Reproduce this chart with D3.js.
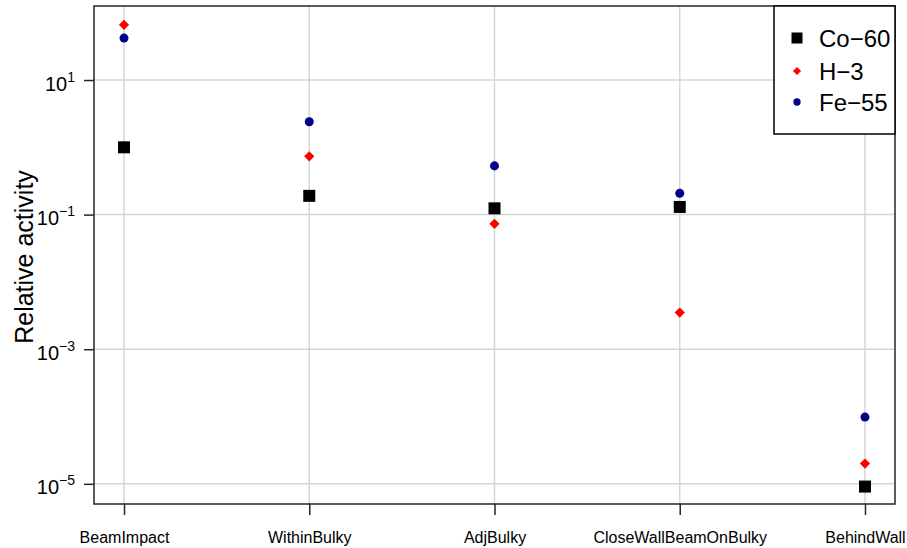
<!DOCTYPE html>
<html>
<head>
<meta charset="utf-8">
<script src="https://cdn.jsdelivr.net/npm/d3@7"></script>
<style>
  html, body { margin: 0; padding: 0; background: #fff; }
  svg { display: block; font-family: "Liberation Sans", Arial, sans-serif; }
</style>
</head>
<body>
<svg id="chart" width="907" height="548"></svg>
<script>
// Locations along the beam line
const categories = ["BeamImpact", "WithinBulky", "AdjBulky", "CloseWallBeamOnBulky", "BehindWall"];

// Relative activity per nuclide
const co60 = [1.0, 0.19, 0.124, 0.13, 9.1e-6];
const h3   = [66, 0.735, 0.073, 0.0035, 2.0e-5];
const fe55 = [42, 2.4, 0.53, 0.207, 9.8e-5];

const seriesNames = ["Co\u221260", "H\u22123", "Fe\u221255"];
const yTickExps = [1, -1, -3, -5];

const plot = { left: 94, right: 895, top: 6, bottom: 504 };

const svg = d3.select("#chart");

const x = d3.scalePoint()
  .domain(categories)
  .range([plot.left, plot.right])
  .padding(0.162);

const y = d3.scaleLog()
  .domain([Math.pow(10, -5.3), Math.pow(10, 2.1)])
  .range([plot.bottom, plot.top]);

// Grid
const grid = svg.append("g").attr("stroke", "#d6d6d6").attr("stroke-width", 1.5);
grid.selectAll("line.v").data(categories).join("line")
  .attr("x1", d => x(d)).attr("x2", d => x(d))
  .attr("y1", plot.top).attr("y2", plot.bottom);
grid.selectAll("line.h").data(yTickExps).join("line")
  .attr("x1", plot.left).attr("x2", plot.right)
  .attr("y1", d => y(Math.pow(10, d))).attr("y2", d => y(Math.pow(10, d)));

// Marker shapes: square, diamond (square turned 45 degrees), circle
const series = [
  { name: seriesNames[0], values: co60, sym: d3.symbol().type(d3.symbolSquare).size(144), rot: 0, color: "#000000",
    legSym: d3.symbol().type(d3.symbolSquare).size(121) },
  { name: seriesNames[1], values: h3, sym: d3.symbol().type(d3.symbolSquare).size(52), rot: 45, color: "#ff0000",
    legSym: d3.symbol().type(d3.symbolSquare).size(34) },
  { name: seriesNames[2], values: fe55, sym: d3.symbol().type(d3.symbolCircle).size(64), rot: 0, color: "#00008b",
    legSym: d3.symbol().type(d3.symbolCircle).size(42) }
];

series.forEach(s => {
  svg.append("g").selectAll("path").data(s.values).join("path")
    .attr("d", s.sym())
    .attr("fill", s.color)
    .attr("transform", (d, i) => `translate(${x(categories[i])},${y(d)}) rotate(${s.rot})`);
});

// Plot frame
svg.append("rect")
  .attr("x", plot.left).attr("y", plot.top)
  .attr("width", plot.right - plot.left).attr("height", plot.bottom - plot.top)
  .attr("fill", "none").attr("stroke", "#262626").attr("stroke-width", 1.5);

// X axis
const xAxis = svg.append("g").attr("transform", `translate(0,${plot.bottom})`)
  .call(d3.axisBottom(x).tickSize(11).tickPadding(0));
xAxis.select(".domain").remove();
xAxis.selectAll(".tick line").attr("stroke", "#262626").attr("stroke-width", 1.5);
xAxis.selectAll(".tick text")
  .attr("fill", "#000").attr("font-size", 16).attr("font-family", "Liberation Sans, Arial, sans-serif")
  .attr("dy", null).attr("y", 39);

// Y axis with power-of-ten labels
const yAxis = svg.append("g").attr("transform", `translate(${plot.left},0)`)
  .call(d3.axisLeft(y).tickValues(yTickExps.map(e => Math.pow(10, e))).tickSize(10).tickFormat(""));
yAxis.select(".domain").remove();
yAxis.selectAll(".tick line").attr("stroke", "#262626").attr("stroke-width", 1.5);
yAxis.selectAll(".tick").each(function(d) {
  const e = Math.round(Math.log10(d));
  const t = d3.select(this).append("text")
    .attr("x", -19).attr("y", 10)
    .attr("text-anchor", "end")
    .attr("fill", "#000")
    .attr("font-size", 20);
  t.append("tspan").text("10");
  t.append("tspan").attr("dy", -9).attr("font-size", 14)
    .text(e < 0 ? "\u2212" + Math.abs(e) : String(e));
});

// Y axis title
svg.append("text")
  .attr("transform", `translate(33,257) rotate(-90)`)
  .attr("text-anchor", "middle")
  .attr("font-size", 25)
  .attr("fill", "#000")
  .text("Relative activity");

// Legend
const leg = { x: 774, y: 6, w: 121, h: 128 };
svg.append("rect")
  .attr("x", leg.x).attr("y", leg.y).attr("width", leg.w).attr("height", leg.h)
  .attr("fill", "#fff").attr("stroke", "#000").attr("stroke-width", 1.5);
const legRows = [38, 71, 102];
series.forEach((s, i) => {
  svg.append("path")
    .attr("d", s.legSym())
    .attr("fill", s.color)
    .attr("transform", `translate(797,${legRows[i]}) rotate(${s.rot})`);
  svg.append("text")
    .attr("x", 819).attr("y", legRows[i] + 9)
    .attr("font-size", 24).attr("fill", "#000")
    .text(s.name);
});
</script>
</body>
</html>
